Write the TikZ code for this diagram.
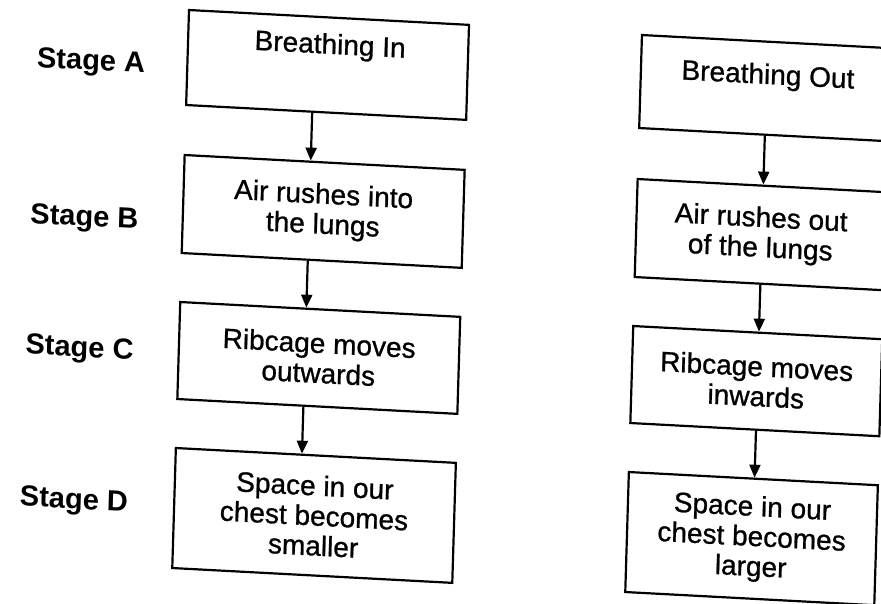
\documentclass[tikz,border=0pt]{standalone}
\usepackage{fontspec}
\setmainfont{Liberation Sans}
\newfontfamily\scanfont{Liberation Sans}[FakeBold=0.9]
\usetikzlibrary{arrows.meta}
\begin{document}
\begin{tikzpicture}[x=1pt,y=-1pt]
\useasboundingbox (0,0) rectangle (881,603);
\begin{scope}[cm={1,-0.053,0.03,1,(0,0)}, transform shape,
  box/.style={draw=black, line width=2.2pt, inner sep=0pt, align=center,
    font=\scanfont\fontsize{28}{30}\selectfont},
  txt/.style={inner sep=0pt, font=\scanfont\fontsize{28}{30}\selectfont},
  stagelbl/.style={anchor=east, inner sep=0pt, font=\bfseries\fontsize{29}{31}\selectfont},
  arr/.style={line width=2.2pt, -{Triangle[width=11pt,length=13pt]}}]
% left column
\node[box, minimum width=280pt, minimum height=95pt] (a) at (329,47.5) {};
\node[txt] (ta) at (331,29) {Breathing In};
\node[box, minimum width=280pt, minimum height=98pt] (b) at (329,194) {Air rushes into\\the lungs};
\node[box, minimum width=280pt, minimum height=97pt] (c) at (329,340.5) {Ribcage moves\\outwards};
\node[box, minimum width=280pt, minimum height=120pt] (d) at (329,498) {Space in our\\chest becomes\\smaller};
% right column
\node[box, minimum width=249pt, minimum height=93pt] (e) at (766.5,47.5) {};
\node[txt] (te) at (769,36) {Breathing Out};
\node[box, minimum width=249pt, minimum height=98pt] (f) at (766.5,194) {Air rushes out\\of the lungs};
\node[box, minimum width=249pt, minimum height=97pt] (g) at (766.5,340.5) {Ribcage moves\\inwards};
\node[box, minimum width=249pt, minimum height=120pt] (h) at (766.5,498) {Space in our\\chest becomes\\larger};
% stage labels
\node[stagelbl] (sa) at (147,58) {Stage A};
\node[stagelbl] (sb) at (145,214) {Stage B};
\node[stagelbl] (sc) at (144,345) {Stage C};
\node[stagelbl] (sd) at (143,497) {Stage D};
% arrows
\draw[arr] ([xshift=-14pt]a.south) -- ([xshift=-14pt]b.north);
\draw[arr] ([xshift=-14pt]b.south) -- ([xshift=-14pt]c.north);
\draw[arr] ([xshift=-14pt]c.south) -- ([xshift=-14pt]d.north);
\draw[arr] ([xshift=1pt]e.south) -- ([xshift=1pt]f.north);
\draw[arr] ([xshift=1pt]f.south) -- ([xshift=1pt]g.north);
\draw[arr] ([xshift=1pt]g.south) -- ([xshift=1pt]h.north);
\end{scope}
\end{tikzpicture}
\end{document}
